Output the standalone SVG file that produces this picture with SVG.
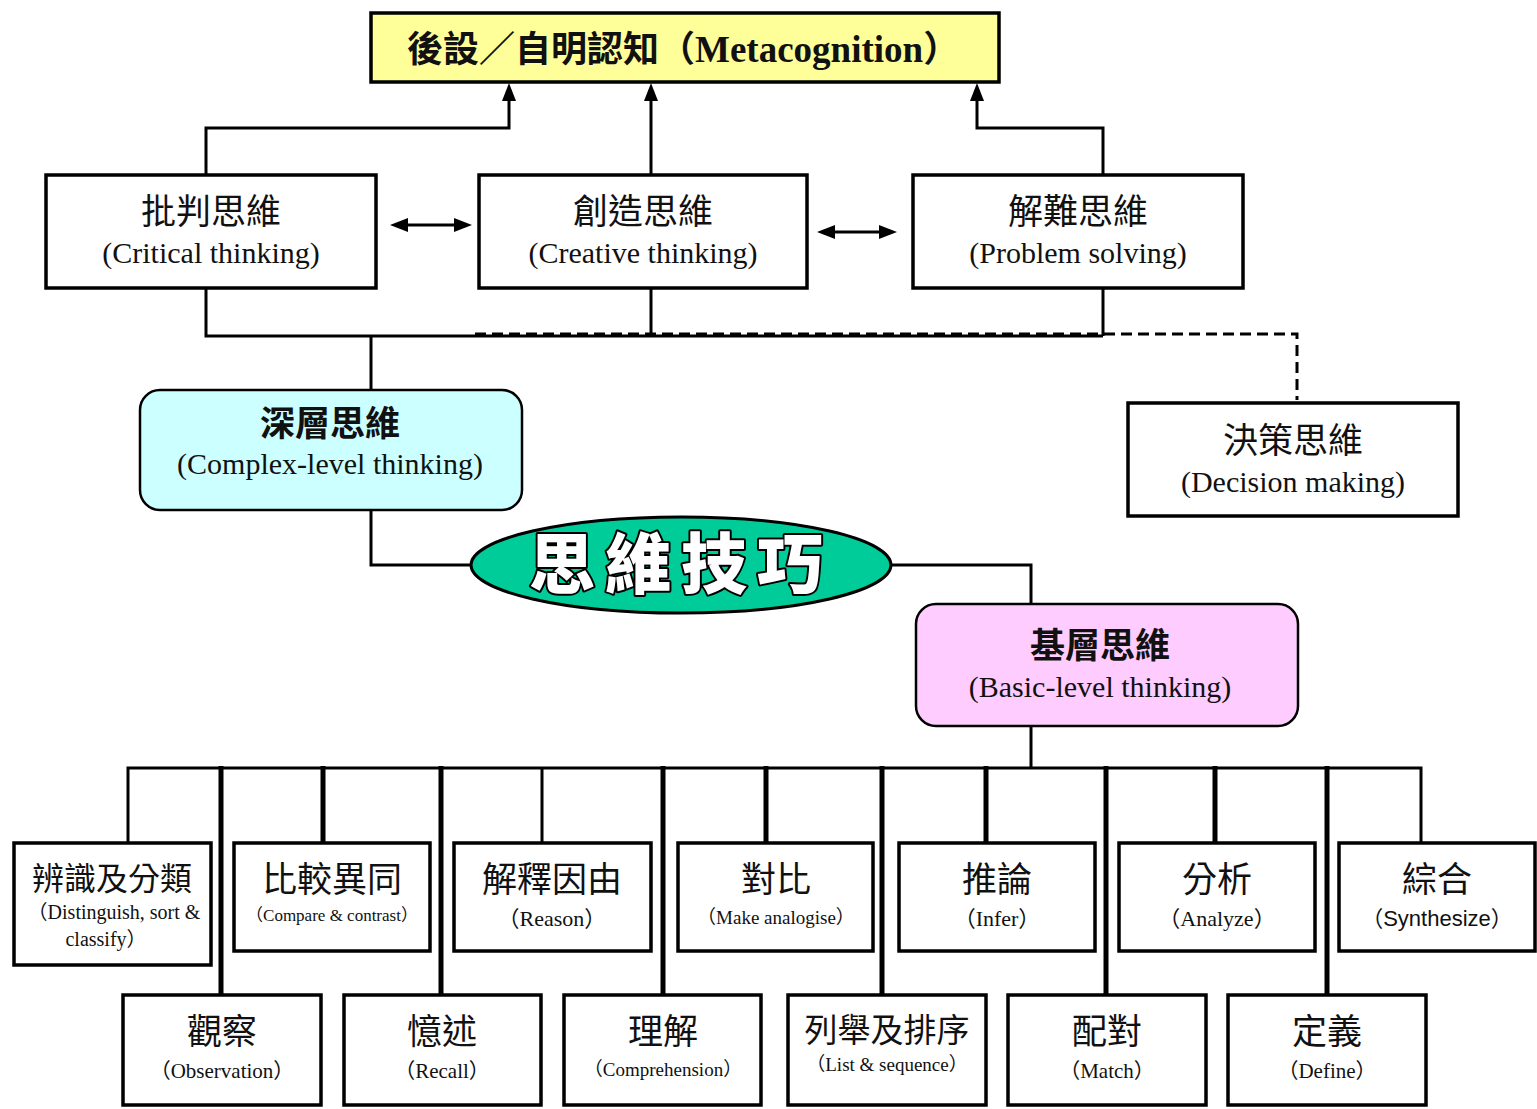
<svg xmlns="http://www.w3.org/2000/svg" width="1537" height="1109" viewBox="0 0 1537 1109">
<defs>
<marker id="ah" markerUnits="userSpaceOnUse" markerWidth="20" markerHeight="16" refX="0" refY="7" orient="auto-start-reverse" viewBox="0 0 20 14">
<path d="M0,0 L18,7 L0,14 z" fill="#000"/>
</marker>
<style>
.box{fill:#fff;stroke:#000;stroke-width:3.5}
.zh{font-family:"Noto Sans CJK TC","Noto Sans CJK SC",sans-serif;fill:#111;text-anchor:middle}
.en{font-family:"Liberation Serif","Times New Roman",serif;fill:#111;text-anchor:middle}
.sm{font-family:"Liberation Serif","Noto Sans CJK TC",serif;fill:#111;text-anchor:middle}
.ln{fill:none;stroke:#000;stroke-width:3}
.thk{fill:none;stroke:#000;stroke-width:5}
</style>
</defs>
<rect width="1537" height="1109" fill="#fff"/>

<g id="connectors">
<path class="ln" d="M206,174 V128 H509 V101" marker-end="url(#ah)"/>
<path class="ln" d="M651,174 V101" marker-end="url(#ah)"/>
<path class="ln" d="M1103,174 V128 H977 V101" marker-end="url(#ah)"/>
<path class="ln" d="M408,225 H454" marker-start="url(#ah)" marker-end="url(#ah)"/>
<path class="ln" d="M835,232 H879" marker-start="url(#ah)" marker-end="url(#ah)"/>
<path class="ln" d="M206,289 V336 H1103"/>
<path class="ln" d="M651,289 V336"/>
<path class="ln" d="M1103,289 V336"/>
<path class="ln" d="M475,334 H1297 V400" stroke-dasharray="11 6"/>
<path class="ln" d="M371,336 V389"/>
<path class="ln" d="M371,511 V565 H471"/>
<path class="ln" d="M891,565 H1031 V603"/>
<path class="ln" d="M1031,727 V768"/>
<path class="ln" d="M128,842 V768 H1421 V842" stroke-width="3.5"/>
<path class="ln" d="M542,768 V842"/>
<path class="thk" d="M221,766 V994 M323,766 V842 M441,766 V994 M663,766 V994 M766,766 V842 M882,766 V994 M986,766 V842 M1106,766 V994 M1215,766 V842 M1327,766 V994"/>
</g>

<g id="metacognition">
<rect x="371" y="13" width="628" height="69" fill="#ffff99" stroke="#000" stroke-width="3.5"/>
<text x="685" y="62" font-weight="bold" font-size="36"><tspan class="zh" style="text-anchor:start" x="407" font-weight="bold">後設／自明認知（</tspan><tspan font-family="Liberation Serif, serif" font-weight="bold" font-size="37" fill="#111">Metacognition</tspan><tspan font-family="Noto Sans CJK TC, sans-serif" font-weight="bold" fill="#111">）</tspan></text>
</g>

<g id="critical">
<rect class="box" x="46" y="175" width="330" height="113"/>
<text class="zh" x="211" y="224" font-size="35">批判思維</text>
<text class="en" x="211" y="263" font-size="30">(Critical thinking)</text>
</g>
<g id="creative">
<rect class="box" x="479" y="175" width="328" height="113"/>
<text class="zh" x="643" y="224" font-size="35">創造思維</text>
<text class="en" x="643" y="263" font-size="30">(Creative thinking)</text>
</g>
<g id="problem">
<rect class="box" x="913" y="175" width="330" height="113"/>
<text class="zh" x="1078" y="224" font-size="35">解難思維</text>
<text class="en" x="1078" y="263" font-size="30">(Problem solving)</text>
</g>
<g id="complex">
<rect x="140" y="390" width="382" height="120" rx="20" fill="#ccffff" stroke="#000" stroke-width="2.5"/>
<text class="zh" x="330" y="436" font-size="35" font-weight="bold">深層思維</text>
<text class="en" x="330" y="474" font-size="30">(Complex-level thinking)</text>
</g>
<g id="decision">
<rect class="box" x="1128" y="403" width="330" height="113"/>
<text class="zh" x="1293" y="453" font-size="35">決策思維</text>
<text class="en" x="1293" y="492" font-size="30">(Decision making)</text>
</g>
<g id="thinking-skills">
<ellipse cx="681" cy="565" rx="210" ry="48" fill="#00cc99" stroke="#000" stroke-width="3"/>
<text x="681" y="588" font-family="Noto Sans CJK TC, sans-serif" font-weight="900" font-size="66" letter-spacing="10" text-anchor="middle" fill="#fff" stroke="#000" stroke-width="4" paint-order="stroke" stroke-linejoin="round">思維技巧</text>
</g>
<g id="basic">
<rect x="916" y="604" width="382" height="122" rx="20" fill="#ffccff" stroke="#000" stroke-width="2.5"/>
<text class="zh" x="1100" y="658" font-size="35" font-weight="bold">基層思維</text>
<text class="en" x="1100" y="697" font-size="30">(Basic-level thinking)</text>
</g>

<g id="distinguish">
<rect class="box" x="14" y="843" width="197" height="122"/>
<text class="zh" x="112" y="890" font-size="32">辨識及分類</text>
<text class="sm" x="114" y="919" font-size="20">（Distinguish, sort &amp;</text>
<text class="sm" x="106" y="946" font-size="20">classify）</text>
</g>
<g id="compare">
<rect class="box" x="234" y="843" width="196" height="108"/>
<text class="zh" x="332" y="892" font-size="35">比較異同</text>
<text class="sm" x="332" y="921" font-size="17">（Compare &amp; contrast）</text>
</g>
<g id="reason">
<rect class="box" x="454" y="843" width="197" height="108"/>
<text class="zh" x="552" y="892" font-size="35">解釋因由</text>
<text class="sm" x="552" y="926" font-size="22">（Reason）</text>
</g>
<g id="analogise">
<rect class="box" x="678" y="843" width="195" height="108"/>
<text class="zh" x="776" y="892" font-size="35">對比</text>
<text class="sm" x="776" y="924" font-size="19">（Make analogise）</text>
</g>
<g id="infer">
<rect class="box" x="899" y="843" width="196" height="108"/>
<text class="zh" x="997" y="892" font-size="35">推論</text>
<text class="sm" x="997" y="926" font-size="22">（Infer）</text>
</g>
<g id="analyze">
<rect class="box" x="1119" y="843" width="196" height="108"/>
<text class="zh" x="1217" y="892" font-size="35">分析</text>
<text class="sm" x="1217" y="926" font-size="22">（Analyze）</text>
</g>
<g id="synthesize">
<rect class="box" x="1339" y="843" width="196" height="108"/>
<text class="zh" x="1437" y="892" font-size="35">綜合</text>
<text x="1437" y="926" font-size="22" text-anchor="middle" font-family="Liberation Sans, Noto Sans CJK TC, sans-serif" fill="#111">（Synthesize）</text>
</g>

<g id="observation">
<rect class="box" x="123" y="995" width="198" height="110"/>
<text class="zh" x="222" y="1044" font-size="35">觀察</text>
<text class="sm" x="222" y="1078" font-size="21">（Observation）</text>
</g>
<g id="recall">
<rect class="box" x="344" y="995" width="197" height="110"/>
<text class="zh" x="442" y="1044" font-size="35">憶述</text>
<text class="sm" x="442" y="1078" font-size="21">（Recall）</text>
</g>
<g id="comprehension">
<rect class="box" x="564" y="995" width="197" height="110"/>
<text class="zh" x="663" y="1044" font-size="35">理解</text>
<text class="sm" x="663" y="1076" font-size="19">（Comprehension）</text>
</g>
<g id="list">
<rect class="box" x="788" y="995" width="198" height="110"/>
<text class="zh" x="887" y="1042" font-size="33">列舉及排序</text>
<text class="sm" x="887" y="1071" font-size="19">（List &amp; sequence）</text>
</g>
<g id="match">
<rect class="box" x="1008" y="995" width="198" height="110"/>
<text class="zh" x="1107" y="1044" font-size="35">配對</text>
<text class="sm" x="1107" y="1078" font-size="21">（Match）</text>
</g>
<g id="define">
<rect class="box" x="1228" y="995" width="198" height="110"/>
<text class="zh" x="1327" y="1044" font-size="35">定義</text>
<text class="sm" x="1327" y="1078" font-size="21">（Define）</text>
</g>
</svg>
